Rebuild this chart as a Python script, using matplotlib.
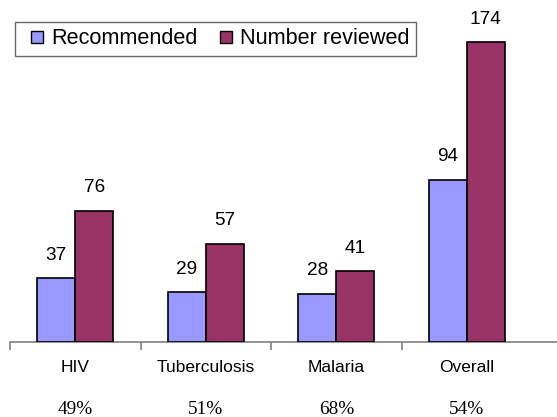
import matplotlib
matplotlib.use("Agg")
import matplotlib.pyplot as plt
import matplotlib.transforms as mtransforms
from matplotlib.patches import Patch, Rectangle
from matplotlib.legend_handler import HandlerPatch

categories = ["HIV", "Tuberculosis", "Malaria", "Overall"]
recommended = [37, 29, 28, 94]
reviewed = [76, 57, 41, 174]
percentages = ["49%", "51%", "68%", "54%"]

W, H = 557, 417
fig = plt.figure(figsize=(W / 100, H / 100), dpi=100)
ax = fig.add_axes([10 / W, (H - 342) / H, 547 / W, 342 / H])

blue = "#9999FF"
maroon = "#993366"
width = 0.29
off = 0.146
xs = [i + 0.5 for i in range(len(categories))]
ax.bar([x - off for x in xs], recommended, width, color=blue, edgecolor="black", linewidth=1.2, label="Recommended", zorder=3)
ax.bar([x + off for x in xs], reviewed, width, color=maroon, edgecolor="black", linewidth=1.2, label="Number reviewed", zorder=3)

for x, v in zip(xs, recommended):
    ax.annotate(str(v), (x - off, v), xytext=(0, 23), textcoords="offset pixels",
                ha="center", va="center", fontsize=13.7, family="Liberation Sans")
for x, v in zip(xs, reviewed):
    ax.annotate(str(v), (x + off, v), xytext=(0, 23), textcoords="offset pixels",
                ha="center", va="center", fontsize=13.7, family="Liberation Sans")

ax.set_xlim(0, 547 / 130.5)
ax.set_ylim(0, 342 / 1.724)

for s in ["top", "right", "left"]:
    ax.spines[s].set_visible(False)
ax.spines["bottom"].set_color("#808080")
ax.spines["bottom"].set_linewidth(1.2)
ax.set_yticks([])
ax.set_xticks(range(4))
ax.set_xticklabels([])
ax.tick_params(axis="x", direction="out", length=6, width=1.2, color="#808080")

trans = mtransforms.blended_transform_factory(ax.transData, fig.transFigure)
for x, c, p in zip(xs, categories, percentages):
    ax.text(x, 1 - 367 / H, c, transform=trans, ha="center", va="center",
            fontsize=12.5, family="Liberation Sans")
    ax.text(x, 1 - 409 / H, p, transform=trans, ha="center", va="center",
            fontsize=13.9, family="Liberation Serif")

SQ = 12 * 72 / 100.0  # 12 px square in points


def square(legend, orig_handle, xdescent, ydescent, width, height, fontsize):
    return Rectangle((-xdescent + width - SQ, -ydescent + (height - SQ) / 2), SQ, SQ)


handles = [Patch(facecolor=blue, edgecolor="black", linewidth=1.0),
           Patch(facecolor=maroon, edgecolor="black", linewidth=1.0)]
hm = {h: HandlerPatch(patch_func=square) for h in handles}
leg = fig.legend(handles, ["Recommended", "Number reviewed"], loc="upper left",
                 bbox_to_anchor=(15 / W, 1 - 22 / H), ncol=2, frameon=True, fancybox=False,
                 prop={"family": "Liberation Sans", "size": 15.6},
                 handlelength=1.0, handleheight=0.7, handletextpad=0.37, columnspacing=0.6,
                 borderpad=0.3, borderaxespad=0, handler_map=hm)
leg.get_frame().set_edgecolor("#404040")
leg.get_frame().set_linewidth(1.0)

fig.savefig("out.png", dpi=100)
